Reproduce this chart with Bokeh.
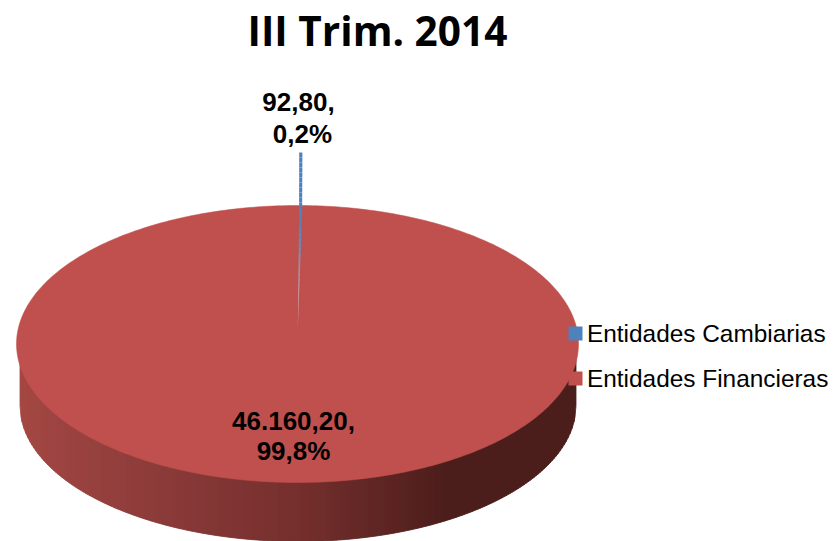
import numpy as np
from bokeh.plotting import figure
from bokeh.models import Range1d
from bokeh.core.properties import value
from bokeh.embed import file_html
from bokeh.resources import INLINE

title = "III Trim. 2014"
categories = ["Entidades Cambiarias", "Entidades Financieras"]
amounts = [92.80, 46160.20]
amount_labels = ["92,80,", "46.160,20,"]
percent_labels = ["0,2%", "99,8%"]
colors = ["#4F81BD", "#C0504D"]

TITLE_H = 57
W, H = 835, 541
p = figure(width=W, height=H, output_backend="svg", toolbar_location=None,
           x_range=Range1d(0, W), y_range=Range1d(H, TITLE_H), min_border=0,
           outline_line_color=None, background_fill_color="white")
p.axis.visible = False
p.grid.visible = False
p.title.text = title
p.title.text_font = "Open Sans"
p.title.text_font_style = "bold"
p.title.text_font_size = "40.6px"
p.title.text_color = "#000000"
p.title.align = "left"
p.title.offset = 247
p.title.standoff = 0

# pie layout (pixels)
CX, CY, RX, RY = 297.0, 343.5, 281.0, 138.5
BX, BY, BRX, BRY = 297.5, 405.0, 278.0, 136.0

shares = np.array(amounts) / sum(amounts)
sweep = shares * 2 * np.pi

# side wall, split into strips shaded left to right
stops_x = [19, 160, 300, 400, 450, 576]
stops_r = [165, 140, 118, 90, 76, 76]
stops_g = [72, 60, 48, 36, 30, 30]
stops_b = [68, 58, 46, 34, 28, 28]
edges = np.arange(BX - BRX, BX + BRX + 2, 2.0)
xs, ys, fills = [], [], []
for a, b in zip(edges[:-1], edges[1:]):
    b = min(b, BX + BRX)
    sx = np.linspace(a, b, 3)
    top = CY + RY * np.sqrt(np.clip(1 - ((sx - CX) / RX) ** 2, 0, 1)) - 6
    top = np.where(np.abs(sx - CX) < RX, top, CY)
    bot = BY + BRY * np.sqrt(np.clip(1 - ((sx - BX) / BRX) ** 2, 0, 1))
    xs.append(list(sx) + list(sx[::-1]))
    ys.append(list(top) + list(bot[::-1]))
    m = (a + b) / 2
    fills.append("#%02x%02x%02x" % (int(np.interp(m, stops_x, stops_r)),
                                    int(np.interp(m, stops_x, stops_g)),
                                    int(np.interp(m, stops_x, stops_b))))
p.patches(xs, ys, fill_color=fills, line_color=fills, line_width=0.8)

# top face
t = np.linspace(0, 2 * np.pi, 361)
p.patch(CX + RX * np.cos(t), CY + RY * np.sin(t), fill_color=colors[1], line_color=colors[1], line_width=0.5)

# small slice: thin wedge whose width comes from its share, fading toward the apex
TIP_X, TIP_Y, TOP_Y = 297.3, 327.0, 152.0
rim_w = RX * np.sin(sweep[0])
n = 35
fr = np.linspace(0, 1, n + 1)  # 0 at apex
wx, wy, wc = [], [], []
taper = lambda f: np.interp(f, [0, 0.65, 1], [0.0, 0.85, 0.9])
for f0, f1 in zip(fr[:-1], fr[1:]):
    y0, y1 = TIP_Y + (TOP_Y - TIP_Y) * f0, TIP_Y + (TOP_Y - TIP_Y) * f1
    l0, l1 = TIP_X + 1.4 * np.interp(f0, [0, .65, 1], [0, .95, 1]), TIP_X + 1.4 * np.interp(f1, [0, .65, 1], [0, .95, 1])
    r0, r1 = l0 + rim_w * taper(f0), l1 + rim_w * taper(f1)
    wx.append([l0, r0, r1, l1])
    wy.append([y0, y0, y1, y1])
    fm = (f0 + f1) / 2
    k = np.interp(fm, [0, 0.2, 0.45, 0.6, 1], [0, .1, .75, 1, 1])
    base = np.array([222, 165, 165]) * (1 - k) + np.array([79, 129, 189]) * k
    wc.append("#%02x%02x%02x" % tuple(int(v) for v in base))
p.patches(wx, wy, fill_color=wc, line_color=None)

# data labels
LABEL_FONT = value("Liberation Sans")
p.text([298, 302], [101, 133], text=[amount_labels[0], percent_labels[0]], text_font=LABEL_FONT,
       text_font_style="bold", text_font_size="26px", text_align="center", text_baseline="middle", text_color="#000000")
p.text([293, 293], [420, 450], text=[amount_labels[1], percent_labels[1]], text_font=LABEL_FONT,
       text_font_style="bold", text_font_size="26px", text_align="center", text_baseline="middle", text_color="#000000")

# legend
LY = [333, 378]
p.scatter([575, 575], LY, marker="square", size=14, fill_color=colors, line_color=None)
p.text([586.5, 586.5], LY, text=categories, text_font=LABEL_FONT, text_font_size="24.4px",
       text_align="left", text_baseline="middle", text_color="#000000")

open("out.html", "w").write(file_html(p, INLINE))
